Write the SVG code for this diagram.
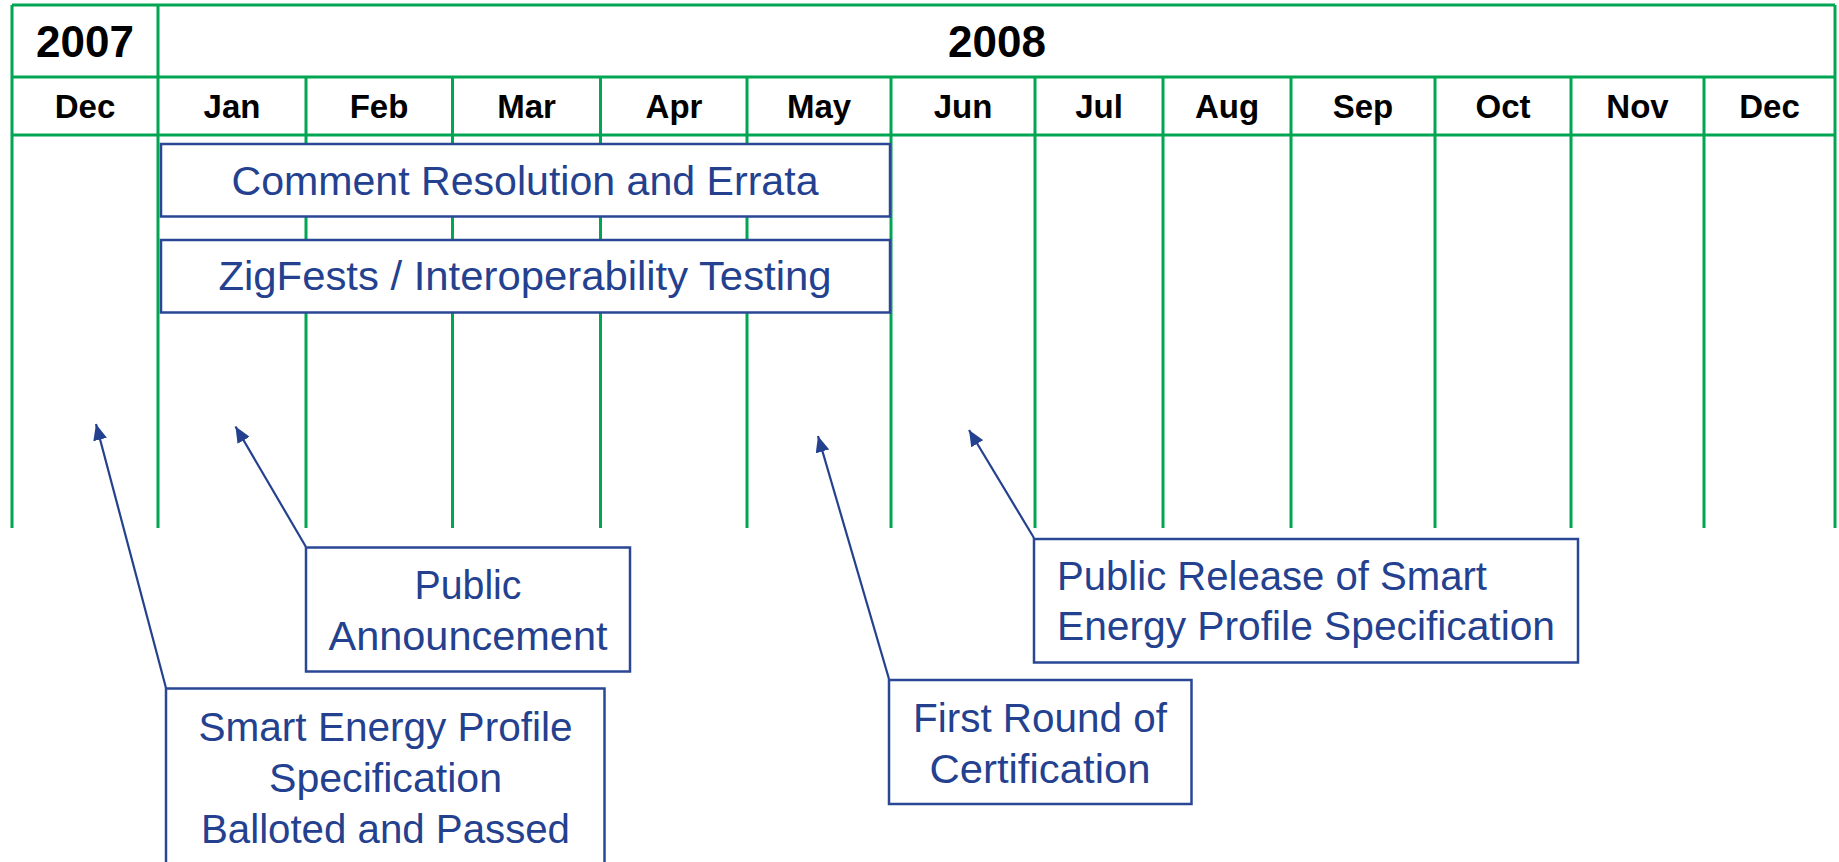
<svg xmlns="http://www.w3.org/2000/svg" width="1839" height="862" viewBox="0 0 1839 862">
  <defs>
    <style>
      .grid { stroke: #00A651; stroke-width: 3; fill: none; }
      .hdr { font-family: "Liberation Sans", Arial, sans-serif; font-weight: bold; fill: #000; text-anchor: middle; }
      .year { font-size: 44px; }
      .month { font-size: 33px; }
      .box { fill: #fff; stroke: #2A4796; stroke-width: 2.5; }
      .lbl { font-family: "Liberation Sans", Arial, sans-serif; font-size: 40px; fill: #24418F; text-anchor: middle; }
      .lbl-left { text-anchor: start; }
      .conn { stroke: #24418F; stroke-width: 2.2; fill: none; marker-end: url(#arrow); }
    </style>
    <marker id="arrow" markerUnits="userSpaceOnUse" markerWidth="18" markerHeight="14" refX="16" refY="7" orient="auto">
      <path d="M0,0 L16,7 L0,14 Z" fill="#24418F"/>
    </marker>
  </defs>
  <rect width="1839" height="862" fill="#fff"/>

  <!-- Timeline grid -->
  <g id="grid">
    <line class="grid" x1="12" y1="5" x2="1835" y2="5"/>
    <line class="grid" x1="12" y1="77" x2="1835" y2="77"/>
    <line class="grid" x1="12" y1="135" x2="1835" y2="135"/>
    <line class="grid" x1="12" y1="5" x2="12" y2="528"/>
    <line class="grid" x1="158" y1="5" x2="158" y2="528"/>
    <line class="grid" x1="1835" y1="5" x2="1835" y2="528"/>
    <line class="grid" x1="306" y1="77" x2="306" y2="528"/>
    <line class="grid" x1="452.5" y1="77" x2="452.5" y2="528"/>
    <line class="grid" x1="600.5" y1="77" x2="600.5" y2="528"/>
    <line class="grid" x1="747" y1="77" x2="747" y2="528"/>
    <line class="grid" x1="891" y1="77" x2="891" y2="528"/>
    <line class="grid" x1="1035" y1="77" x2="1035" y2="528"/>
    <line class="grid" x1="1163" y1="77" x2="1163" y2="528"/>
    <line class="grid" x1="1291" y1="77" x2="1291" y2="528"/>
    <line class="grid" x1="1435" y1="77" x2="1435" y2="528"/>
    <line class="grid" x1="1571" y1="77" x2="1571" y2="528"/>
    <line class="grid" x1="1704" y1="77" x2="1704" y2="528"/>
  </g>

  <!-- Year and month headings -->
  <g id="headings">
    <text class="hdr year" x="85" y="57">2007</text>
    <text class="hdr year" x="997" y="57">2008</text>
    <text class="hdr month" x="85" y="118">Dec</text>
    <text class="hdr month" x="232" y="118">Jan</text>
    <text class="hdr month" x="379" y="118">Feb</text>
    <text class="hdr month" x="526.5" y="118">Mar</text>
    <text class="hdr month" x="674" y="118">Apr</text>
    <text class="hdr month" x="819" y="118">May</text>
    <text class="hdr month" x="963" y="118">Jun</text>
    <text class="hdr month" x="1099" y="118">Jul</text>
    <text class="hdr month" x="1227" y="118">Aug</text>
    <text class="hdr month" x="1363" y="118">Sep</text>
    <text class="hdr month" x="1503" y="118">Oct</text>
    <text class="hdr month" x="1637.5" y="118">Nov</text>
    <text class="hdr month" x="1769.5" y="118">Dec</text>
  </g>

  <!-- Activity bars -->
  <g id="comment-resolution">
    <rect class="box" x="161" y="144" width="729" height="72.5"/>
    <text class="lbl" x="525" y="195" textLength="587" lengthAdjust="spacingAndGlyphs">Comment Resolution and Errata</text>
  </g>
  <g id="zigfests">
    <rect class="box" x="161" y="240" width="729" height="72.5"/>
    <text class="lbl" x="525" y="290" textLength="613" lengthAdjust="spacingAndGlyphs">ZigFests / Interoperability Testing</text>
  </g>

  <!-- Milestone callout pointers -->
  <g id="connectors">
    <line class="conn" x1="166" y1="688" x2="96" y2="424"/>
    <line class="conn" x1="306" y1="547" x2="235.5" y2="426.5"/>
    <line class="conn" x1="889" y1="679" x2="818" y2="436"/>
    <line class="conn" x1="1034" y1="538" x2="969" y2="430"/>
  </g>

  <!-- Milestone callouts -->
  <g id="public-announcement">
    <rect class="box" x="306" y="547.5" width="324" height="124"/>
    <text class="lbl" x="468" y="599" textLength="107" lengthAdjust="spacingAndGlyphs">Public</text>
    <text class="lbl" x="468" y="650" textLength="279" lengthAdjust="spacingAndGlyphs">Announcement</text>
  </g>
  <g id="sep-balloted">
    <rect class="box" x="166" y="688.5" width="438.5" height="200"/>
    <text class="lbl" x="385.5" y="741" textLength="374" lengthAdjust="spacingAndGlyphs">Smart Energy Profile</text>
    <text class="lbl" x="385.5" y="792" textLength="233" lengthAdjust="spacingAndGlyphs">Specification</text>
    <text class="lbl" x="385.5" y="843" textLength="369" lengthAdjust="spacingAndGlyphs">Balloted and Passed</text>
  </g>
  <g id="first-certification">
    <rect class="box" x="889" y="680" width="302.5" height="124"/>
    <text class="lbl" x="1040" y="732" textLength="254" lengthAdjust="spacingAndGlyphs">First Round of</text>
    <text class="lbl" x="1040" y="783" textLength="221" lengthAdjust="spacingAndGlyphs">Certification</text>
  </g>
  <g id="public-release">
    <rect class="box" x="1034" y="539" width="544" height="123.5"/>
    <text class="lbl lbl-left" x="1057" y="590" textLength="430" lengthAdjust="spacingAndGlyphs">Public Release of Smart</text>
    <text class="lbl lbl-left" x="1057" y="640" textLength="498" lengthAdjust="spacingAndGlyphs">Energy Profile Specification</text>
  </g>
</svg>
